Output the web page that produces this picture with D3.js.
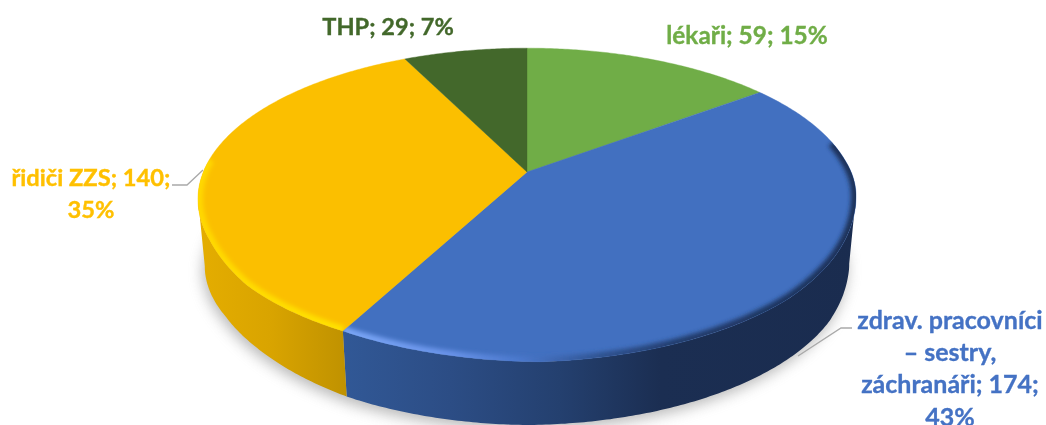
<!DOCTYPE html>
<html><head><meta charset="utf-8">
<script src="https://cdn.jsdelivr.net/npm/d3@7"></script>
<style>html,body{margin:0;padding:0;background:#fff;overflow:hidden}svg{display:block}</style>
</head><body><svg id="c" width="1046" height="425"></svg>
<script>
const categories = ["lékaři","zdrav. pracovníci – sestry, záchranáři","řidiči ZZS","THP"];
const values = [59,174,140,29];
const percents = [15,43,35,7];
const faceColors = ["#70ad47","#4270c0","#fbbf00","#43682b"];
const labelColors = ["#70ad47","#4472c4","#ffc000","#43682b"];

const W=1046,H=425,TAU=Math.PI*2,DEG=Math.PI/180;
const svg=d3.select("#c");
const defs=svg.append("defs");
const k=0.179;
// the rendered 3-D rim departs slightly from a true ellipse; these scales hold that shape correction
const topAdjust=d3.scaleLinear().domain([85,100,120,135,178,209,230,245,262]).range([0,-3,4,8,12,7,7,1,0]).clamp(true);
const botAdjust=d3.scaleLinear().domain([85,105,120,140,180,208,228,240,255,265]).range([0,-6,-1,0,2,0,-5,-7,-4,0]).clamp(true);
function projector(a,b,cx,cy,adj){
  return t=>{const u=Math.sin(t),v=-Math.cos(t),w=1-k*v;return [cx+a*u/w,cy+b*v/w+adj(t/DEG)];};
}
const topP=projector(323.7,146,527,172,topAdjust);
const botP=projector(317,149,527,241.5,botAdjust);
const arcs=d3.pie().sort(null).value(d=>d)(values);
const sample=(a0,a1,p)=>{const n=Math.max(2,Math.ceil((a1-a0)/0.01));return d3.range(n+1).map(i=>p(a0+(a1-a0)*i/n));};
const line=d3.line();

function blur(id,s){defs.append("filter").attr("id",id).attr("x","-20%").attr("y","-20%").attr("width","140%").attr("height","140%")
  .append("feGaussianBlur").attr("stdDeviation",s);}
blur("sh",7);blur("b3",2.3);blur("b1",0.45);
function grad(id,stops,x1=200,x2=860){
  const g=defs.append("linearGradient").attr("id",id).attr("gradientUnits","userSpaceOnUse")
    .attr("x1",x1).attr("x2",x2).attr("y1",0).attr("y2",0);
  stops.forEach(s=>g.append("stop").attr("offset",(s[0]-x1)/(x2-x1)).attr("stop-color",s[1]));
}
grad("sideY",[[200,"#e4ad00"],[270,"#d9a400"],[345,"#c09200"]]);
grad("sideB",[[344,"#315896"],[450,"#2c4d85"],[560,"#24406f"],[660,"#1b2e52"],[860,"#1a2c4f"]]);
grad("rimB",[[344,"#7aa6f6"],[450,"#6892e8"],[520,"#4a78cc"],[600,"#2f5391"],[680,"#223c6c"],[860,"#1c3158"]]);
grad("rimY",[[200,"#ffd800"],[350,"#ffe200"]]);

// soft shadow under the disc
const bottomFull=sample(0,TAU,botP);
svg.append("path").attr("d",line(bottomFull)+"Z").attr("fill","#8c8c8c").attr("opacity",0.6)
  .attr("transform","translate(-2,5)").attr("filter","url(#sh)");

// side walls: only from the silhouette tangent round to the slice boundary
const sideFill={1:"url(#sideB)",2:"url(#sideY)"};
const tangentRight=100*DEG,tangentLeft=260*DEG;
arcs.forEach((d,i)=>{
  if(!sideFill[i])return;
  const a0=i===1?Math.max(d.startAngle,tangentRight):d.startAngle;
  const a1=i===2?Math.min(d.endAngle,tangentLeft):d.endAngle;
  const pts=sample(a0,a1,topP).concat(sample(a0,a1,botP).reverse());
  svg.append("path").attr("d",line(pts)+"Z").attr("fill",sideFill[i]);
});

// top face
const apex=[527,172];
arcs.forEach((d,i)=>{
  const pts=[apex].concat(sample(d.startAngle,d.endAngle,topP));
  const dPath=line(pts)+"Z";
  svg.append("path").attr("d",dPath).attr("fill",faceColors[i]).attr("stroke",faceColors[i]).attr("stroke-width",0.4);
  defs.append("clipPath").attr("id","clip"+i).append("path").attr("d",dPath);
});

// bevel along the rim
arcs.forEach((d,i)=>{
  if(!sideFill[i])return;
  const a0=i===1?78*DEG:d.startAngle;
  const a1=i===2?275*DEG:d.endAngle;
  const g=svg.append("g").attr("clip-path",`url(#clip${i})`);
  g.append("path").attr("d",line(sample(a0,a1,topP))).attr("fill","none")
    .attr("stroke",i===1?"url(#rimB)":"url(#rimY)").attr("stroke-width",10).attr("filter","url(#b3)");
});

// leader lines
const leaders=[null,[[852,328],[841,328],[798,356]],[[172,185],[187,185],[203,170]],null];
leaders.forEach(l=>{if(l)svg.append("path").attr("d",line(l)).attr("fill","none").attr("stroke","#a9a9a9").attr("stroke-width",1.3);});

// labels
const labelLines=[
  [`${categories[0]}; ${values[0]}; ${percents[0]}%`],
  ["zdrav. pracovníci","– sestry,",`záchranáři; ${values[1]};`,`${percents[1]}%`],
  [`${categories[2]}; ${values[2]};`,`${percents[2]}%`],
  [`${categories[3]}; ${values[3]}; ${percents[3]}%`]
];
const labelPos=[[747,44],[950,329],[91,186],[388,35]];
const lh=[0,32.2,32,0];
const fs=[24.4,25,23.7,23.6];
labelLines.forEach((ls,i)=>{
  const t=svg.append("text").attr("font-family","Lato, 'Open Sans', sans-serif").attr("font-weight",700)
    .attr("font-size",fs[i]).attr("fill",labelColors[i]).attr("stroke",labelColors[i]).attr("stroke-width",0.35)
    .attr("text-anchor","middle").attr("filter","url(#b1)");
  ls.forEach((s,j)=>t.append("tspan").attr("x",labelPos[i][0]).attr("y",labelPos[i][1]+j*lh[i]).text(s));
});
</script></body></html>
